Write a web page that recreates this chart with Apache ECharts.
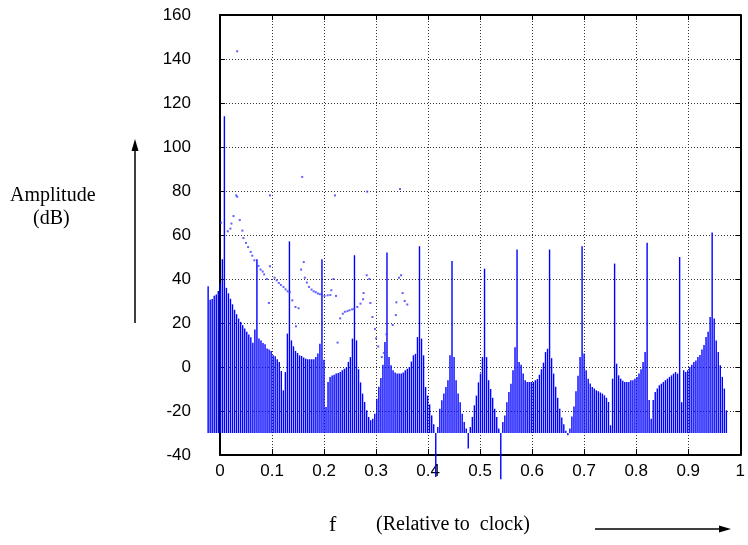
<!DOCTYPE html>
<html>
<head>
<meta charset="utf-8">
<script src="https://cdn.jsdelivr.net/npm/echarts@6/dist/echarts.min.js"></script>
<style>
  html, body { margin: 0; padding: 0; background: #fff; }
  #chart { width: 748px; height: 545px; }
</style>
</head>
<body>
<div id="chart"></div>
<script>
// spectrum bins: first bin frequency and bin spacing (relative to clock)
const binStart = -0.0228
const binStep = 1 / 256
const baseLevel = -30

// amplitude (dB) of each of the 256 bins
const amplitude = [
  36.7, 30.6, 30.9, 32.4, 33, 34.5, 38, 49,
  114,
  36, 33.5, 31, 28.5, 26, 24, 22, 20.5, 19, 17.5, 16, 14.8, 13.5, 11, 17,
  49,
  12.9, 12.1, 10.9, 10.3, 8.4, 7.9, 7.3, 5.3, 4.9, 3.5, 2.3, -1.8, -10.6, -2.3, 15.2,
  57.1,
  12.1, 9.4, 7.3, 6.4, 5.3, 5, 4.3, 3.8, 3.5, 3.5, 3.5, 3.5, 4.5, 6.1, 10.6,
  49,
  3.3, -18.2, -6.8, -4.5, -3.9, -3.5, -3, -2.7, -2.3, -1.5, -0.8, -0.2, 2.3, 4.5, 12.9,
  50.8,
  12.1, -1, -7, -12.1, -15.9, -19.7, -22.7, -24.2, -23.5, -21.2, -14.4, -9, -5, 1, 11.4,
  52.1,
  4.5, 0.8, -1.5, -2.5, -3, -3, -3, -2.5, -1.5, -0.8, 0, 2.5, 5.3, 6, 13.6,
  54.9,
  12.9, 5.3, -9.1, -13, -17, -22, -26, -50, -27.3, -19, -15.1, -12.1, -9.1, -6, 5.3,
  48.2,
  4.5, -6, -12, -16, -21.2, -25, -28, -37, -27.3, -22.7, -17.4, -13, -7, -3, 4.5,
  44.7,
  4.5, -6, -10, -14, -19, -22.7, -28, -51, -25, -22, -16, -11.4, -7.6, -1.5, 9,
  53.4,
  2.3, 1, -3, -6, -6.8, -6.8, -6.8, -6.8, -6, -5.5, -3.5, -1, 2, 6.8, 8.3,
  53.4,
  4, -3, -9, -14, -19, -23, -26, -29, -31, -28, -22.5, -18, -11, -4, 4.5,
  54.9,
  6.1, -1.5, -5.3, -7.5, -9.1, -9.8, -10.6, -11, -11.6, -12.1, -12.9, -14, -15.9, -26.5, -5.3,
  47,
  1.5, -3.8, -5.3, -6.3, -6.8, -6.8, -6.8, -6, -6, -5.3, -4.5, -3, -1, 2.3, 6.8,
  56.5,
  -15, -23.5, -15, -11.4, -9.8, -8.3, -7.6, -6.8, -6, -5.3, -4.5, -3.8, -3, -2.3, -3,
  50,
  -16, -1.5, -2.3, -1.5, 0, 1, 2.3, 3, 4.5, 5.5, 8, 10, 13.6, 16, 22.7,
  61.1,
  22, 12.1, 6.8, 0.8, -4.5, -9.8, -19.7
]

// scattered points
const dotF = [
  0.002, 0.015, 0.020, 0.022, 0.026, 0.031, 0.033, 0.033,
  0.038, 0.043, 0.045, 0.050, 0.054, 0.059, 0.062, 0.066,
  0.074, 0.078, 0.082, 0.085, 0.090, 0.094, 0.096, 0.096,
  0.105, 0.109, 0.113, 0.117, 0.122, 0.126, 0.130, 0.134, 0.139, 0.145, 0.146, 0.151,
  0.156, 0.158, 0.161, 0.163, 0.167, 0.171, 0.176, 0.180, 0.184, 0.188, 0.192, 0.196,
  0.201, 0.207, 0.212, 0.214, 0.218, 0.221, 0.223, 0.226,
  0.231, 0.236, 0.240, 0.245, 0.249, 0.254, 0.258, 0.264, 0.270, 0.275, 0.276, 0.282,
  0.283, 0.287, 0.289, 0.293, 0.298, 0.300, 0.304, 0.311, 0.315,
  0.320, 0.332, 0.338, 0.339, 0.344, 0.346, 0.348, 0.351, 0.355, 0.360
]
const dotA = [
  65.6, 61.7, 62.9, 65.2, 68.6, 78, 77.4, 143.5,
  66.8, 62, 58.6, 56.4, 54.5, 52.3, 50.6, 48.5,
  45.9, 44.3, 43.4, 42.1, 40, 29.1, 45.8, 78,
  40.6, 39.4, 38.2, 37.3, 36.4, 35.3, 34.4, 34, 30.3, 27.3, 18.5, 26.7,
  44.3, 86.4, 47.7, 40.6, 38.4, 36.4, 35.2, 34.4, 34, 33.4, 33.1, 32.6,
  32.3, 32.6, 32.7, 34.9, 40, 78, 32.3, 11.1,
  22.1, 24.2, 25.1, 25.4, 25.8, 26.2, 26.5, 27.3, 28.8, 30.8, 33.6, 41.7,
  79.7, 40, 29.1, 22.7, 17.3, 13, 9.3, 4.5, 6.4,
  14.9, 19.1, 23.6, 29.4, 40.6, 80.9, 41.7, 33.6, 30, 28.4
]

const tickFont = { fontFamily: 'Liberation Sans, Arial, sans-serif', fontSize: 17, color: '#000' }
const serif = 'Liberation Serif, Times New Roman, serif'

const bars = amplitude.map((a, i) => [binStart + i * binStep, a])
const dots = dotF.map((f, i) => [f, dotA[i]])

const myChart = echarts.init(document.getElementById('chart'))

const gridLine = { show: true, lineStyle: { color: '#333', type: [1, 2], width: 1 } }
const border = { show: true, onZero: false, lineStyle: { color: '#000', width: 2 } }

const option = {
  animation: false,
  grid: { left: 220, right: 3, top: 15, bottom: 90 },
  xAxis: [
    {
      type: 'value', min: 0, max: 1, interval: 0.1,
      axisLine: border,
      axisTick: { show: true, inside: true, length: 6, lineStyle: { color: '#000' } },
      axisLabel: Object.assign({ margin: 8, formatter: v => String(parseFloat(v.toFixed(1))) }, tickFont),
      splitLine: gridLine
    },
    {
      type: 'value', min: 0, max: 1, interval: 0.1, position: 'top',
      axisLine: border,
      axisTick: { show: true, inside: true, length: 5, lineStyle: { color: '#000' } },
      axisLabel: { show: false }, splitLine: { show: false }
    }
  ],
  yAxis: [
    {
      type: 'value', min: -40, max: 160, interval: 20,
      axisLine: border,
      axisTick: { show: true, inside: true, length: 5, lineStyle: { color: '#000' } },
      axisLabel: Object.assign({ margin: 29 }, tickFont),
      splitLine: gridLine
    },
    {
      type: 'value', min: -40, max: 160, interval: 20, position: 'right',
      axisLine: border,
      axisTick: { show: true, inside: true, length: 5, lineStyle: { color: '#000' } },
      axisLabel: { show: false }, splitLine: { show: false }
    }
  ],
  series: [
    {
      type: 'custom',
      clip: false,
      data: bars,
      renderItem(params, api) {
        const f = api.value(0)
        const p0 = api.coord([f, baseLevel])
        const p1 = api.coord([f, api.value(1)])
        return {
          type: 'line',
          shape: { x1: p0[0], y1: p0[1], x2: p1[0], y2: p1[1] },
          style: { stroke: '#0000ff', lineWidth: 1.4 }
        }
      }
    },
    {
      type: 'scatter',
      data: dots,
      symbol: 'rect',
      symbolSize: 2,
      itemStyle: { color: '#3a3aff' }
    }
  ],
  graphic: [
    { type: 'text', left: 10, top: 186, style: { text: 'Amplitude', font: '20px ' + serif, fill: '#000' } },
    { type: 'text', left: 33, top: 209, style: { text: '(dB)', font: '20px ' + serif, fill: '#000' } },
    { type: 'line', shape: { x1: 135, y1: 323, x2: 135, y2: 148 }, style: { stroke: '#000', lineWidth: 1.5 } },
    { type: 'polygon', shape: { points: [[135, 139], [131.5, 151], [138.5, 151]] }, style: { fill: '#000' } },
    { type: 'text', left: 329, top: 514, style: { text: 'f', font: '22px ' + serif, fill: '#000' } },
    { type: 'text', left: 376, top: 515, style: { text: '(Relative to  clock)', font: '20px ' + serif, fill: '#000' } },
    { type: 'line', shape: { x1: 595, y1: 529, x2: 722, y2: 529 }, style: { stroke: '#000', lineWidth: 1.5 } },
    { type: 'polygon', shape: { points: [[731, 529], [719, 525.5], [719, 532.5]] }, style: { fill: '#000' } }
  ]
}

myChart.setOption(option)
window.onresize = function () { myChart.resize() }
</script>
</body>
</html>
